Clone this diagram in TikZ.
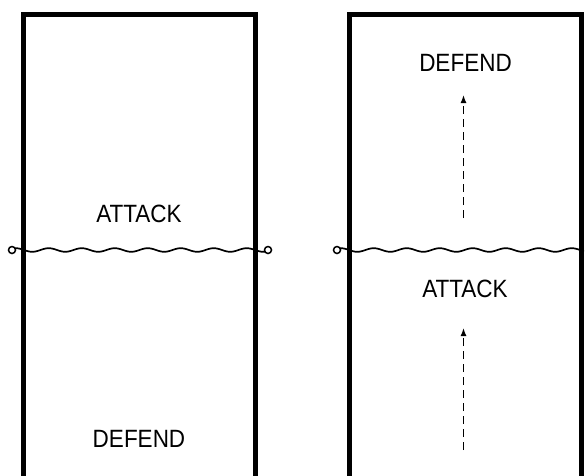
\documentclass[tikz,border=0pt]{standalone}
\usepackage{fontspec}
\setmainfont{Liberation Sans}[FakeStretch=0.9]
\usetikzlibrary{arrows.meta}
\begin{document}
\begin{tikzpicture}[x=1pt,y=-1pt,
  court/.style={line width=5pt},
  wave/.style={line width=1.7pt},
  post/.style={circle,draw,line width=1.5pt,fill=white,inner sep=0pt,minimum size=7pt},
  lbl/.style={font=\fontsize{25}{29}\selectfont,inner sep=0pt,anchor=center},
  move/.style={line width=1.4pt,dash pattern=on 8pt off 5pt,-{Latex[length=8pt,width=6pt]}}]
\useasboundingbox (0,0) rectangle (587,475);
% courts
\draw[court] (23.5,490) -- (23.5,14.5) -- (255.5,14.5) -- (255.5,490);
\draw[court] (349,490) -- (349,14.5) -- (581.5,14.5) -- (581.5,490);
% nets
\draw[wave] plot[domain=12:268,samples=300] (\x,{250+1.8*sin((\x-24)/33*360)});
\draw[wave] plot[domain=337:584,samples=300] (\x,{250+1.8*sin((\x-349)/33*360)});
\node[post] (pl) at (12,250) {};
\node[post] (pr) at (268,250) {};
\node[post] (ql) at (337,250) {};
% labels
\node[lbl] (a1) at (139,214) {ATTACK};
\node[lbl] (d1) at (139,439) {DEFEND};
\node[lbl] (d2) at (465.5,63) {DEFEND};
\node[lbl] (a2) at (465,288.5) {ATTACK};
% movement arrows
\coordinate (s1) at (463.5,218);
\coordinate (e1) at (463.5,95);
\coordinate (s2) at (463.5,450);
\coordinate (e2) at (463.5,328);
\draw[move] (s1) -- (e1);
\draw[move] (s2) -- (e2);
\end{tikzpicture}
\end{document}
